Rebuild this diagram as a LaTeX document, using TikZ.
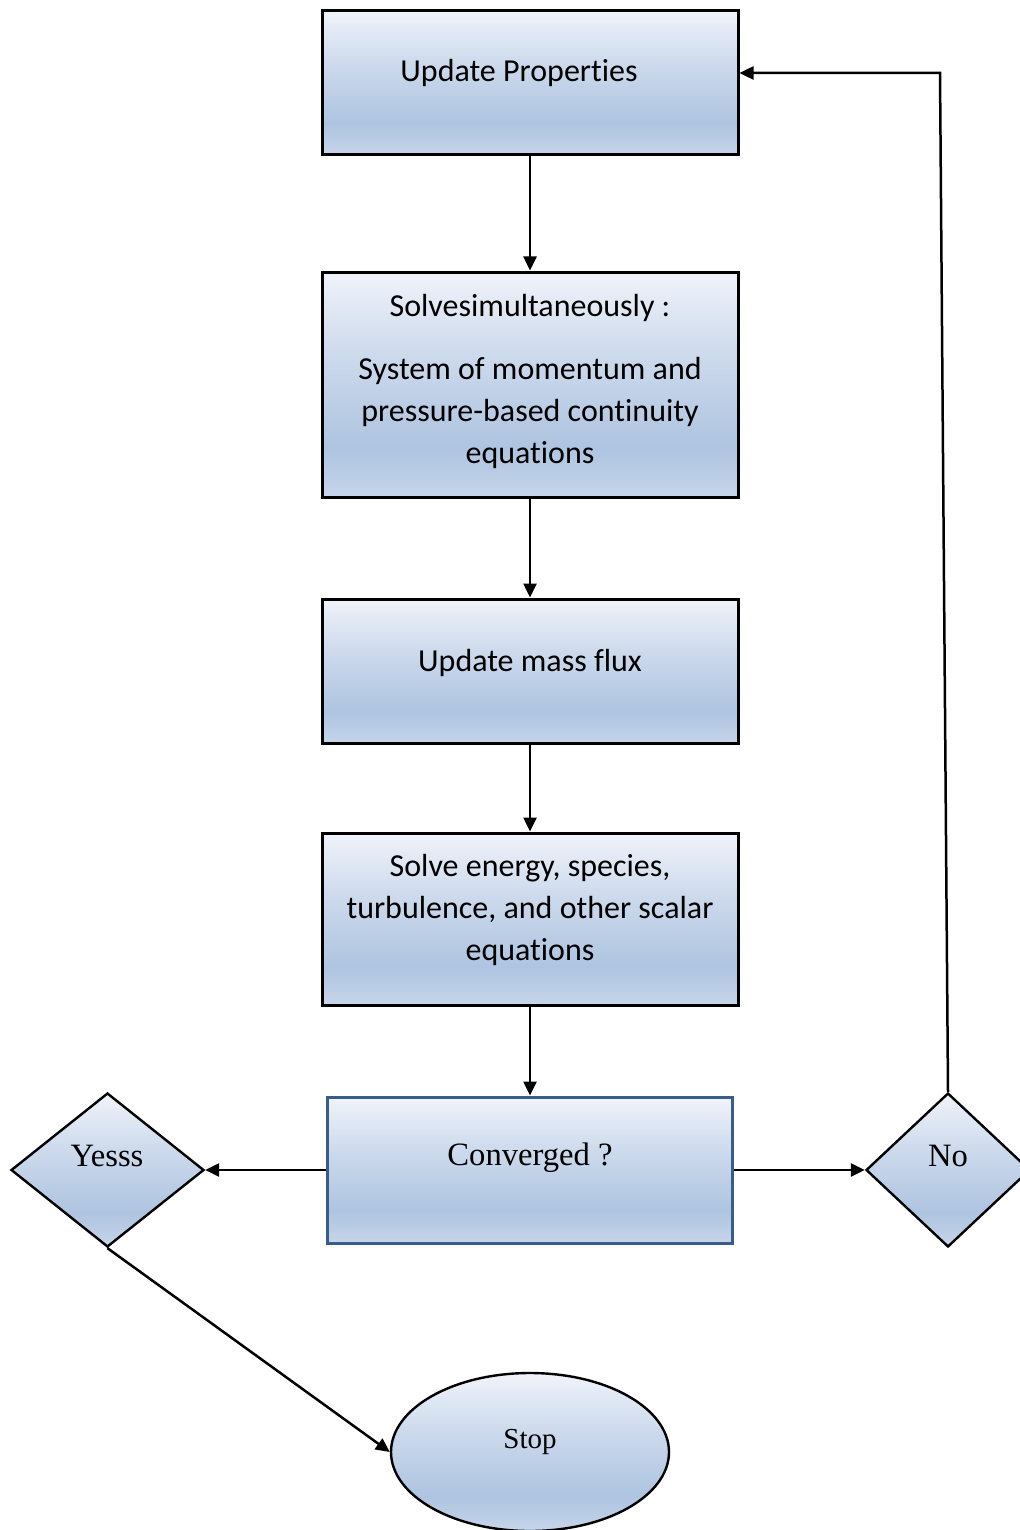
\documentclass[tikz,border=0pt]{standalone}
\usepackage{fontspec}
\setmainfont{Carlito}[Ligatures={NoCommon,NoContextual}]
\newfontfamily\tnr{Liberation Serif}
\usetikzlibrary{shapes.geometric,arrows.meta}

\definecolor{topc}{HTML}{F0F3FA}
\definecolor{midc}{HTML}{AEC4E0}
\definecolor{botc}{HTML}{C6D5EA}
\definecolor{edgeblue}{HTML}{385D8A}
\pgfdeclareverticalshading{wordblue}{100bp}{color(0bp)=(botc); color(25bp)=(botc); color(36bp)=(midc); color(56bp)=(midc!55!topc); color(75bp)=(topc); color(100bp)=(topc)}

\tikzset{
  stepbox/.style={draw=black, line width=1.5pt, shading=wordblue, rectangle, inner sep=0pt},
  decision/.style={draw=black, line width=1.2pt, shading=wordblue, diamond, inner sep=0pt},
  terminal/.style={draw=black, line width=1.2pt, shading=wordblue, ellipse, inner sep=0pt},
  boxtext/.style={anchor=base, align=center, inner sep=0pt, font=\fontsize{16}{21}\selectfont},
  serif/.style={anchor=base, inner sep=0pt, font=\tnr\fontsize{16.3}{20}\selectfont},
  flow/.style={line width=1.25pt, -{Triangle[length=7pt,width=6.5pt]}},
}

\begin{document}
\begin{tikzpicture}[x=0.5pt, y=-0.5pt]
\useasboundingbox (0,0) rectangle (1020,1530);

% process boxes
\node[stepbox, minimum width=208pt, minimum height=72pt] (b1) at (530,83) {};
\node[stepbox, minimum width=208pt, minimum height=112.5pt] (b2) at (530,384.5) {};
\node[stepbox, minimum width=208pt, minimum height=72pt] (b3) at (530,671) {};
\node[stepbox, minimum width=208pt, minimum height=86pt] (b4) at (530,919) {};
\node[stepbox, draw=edgeblue, minimum width=202.5pt, minimum height=73pt] (conv) at (530,1170) {};

% decisions and terminal
\node[decision, minimum width=96.5pt, minimum height=77pt] (yes) at (107.5,1170) {};
\node[decision, minimum width=82pt, minimum height=77pt] (no) at (948,1170) {};
\node[terminal, minimum width=139pt, minimum height=79pt] (stop) at (530,1452) {};

% labels (multi-line blocks are placed by their last baseline)
\node[boxtext] (t1) at (519,82) {Update Properties};
\node[boxtext] (t2) at (530,463) {Solvesimultaneously :\\[10.5pt]System of momentum and\\pressure-based continuity\\equations};
\node[boxtext] (t3) at (530,671) {Update mass flux};
\node[boxtext] (t4) at (530,960) {Solve energy, species,\\turbulence, and other scalar\\equations};
\node[serif] (t5) at (530,1165) {Converged ?};
\node[serif] (t6) at (107,1166) {Yesss};
\node[serif] (t7) at (948,1166) {No};
\node[serif, font=\tnr\fontsize{14.5}{18}\selectfont] (t8) at (530,1448) {Stop};

% connectors
\coordinate (loop) at (940,73);
\draw[flow] (b1) -- (b2);
\draw[flow] (b2) -- (b3);
\draw[flow] (b3) -- (b4);
\draw[flow] (b4) -- (conv);
\draw[flow] (conv.west) -- (yes.east);
\draw[flow] (conv.east) -- (no.west);
\draw[flow] (no.north) -- (loop) -- (loop -| b1.east);
\draw[flow] (yes.south) -- (stop.west);
\end{tikzpicture}
\end{document}
